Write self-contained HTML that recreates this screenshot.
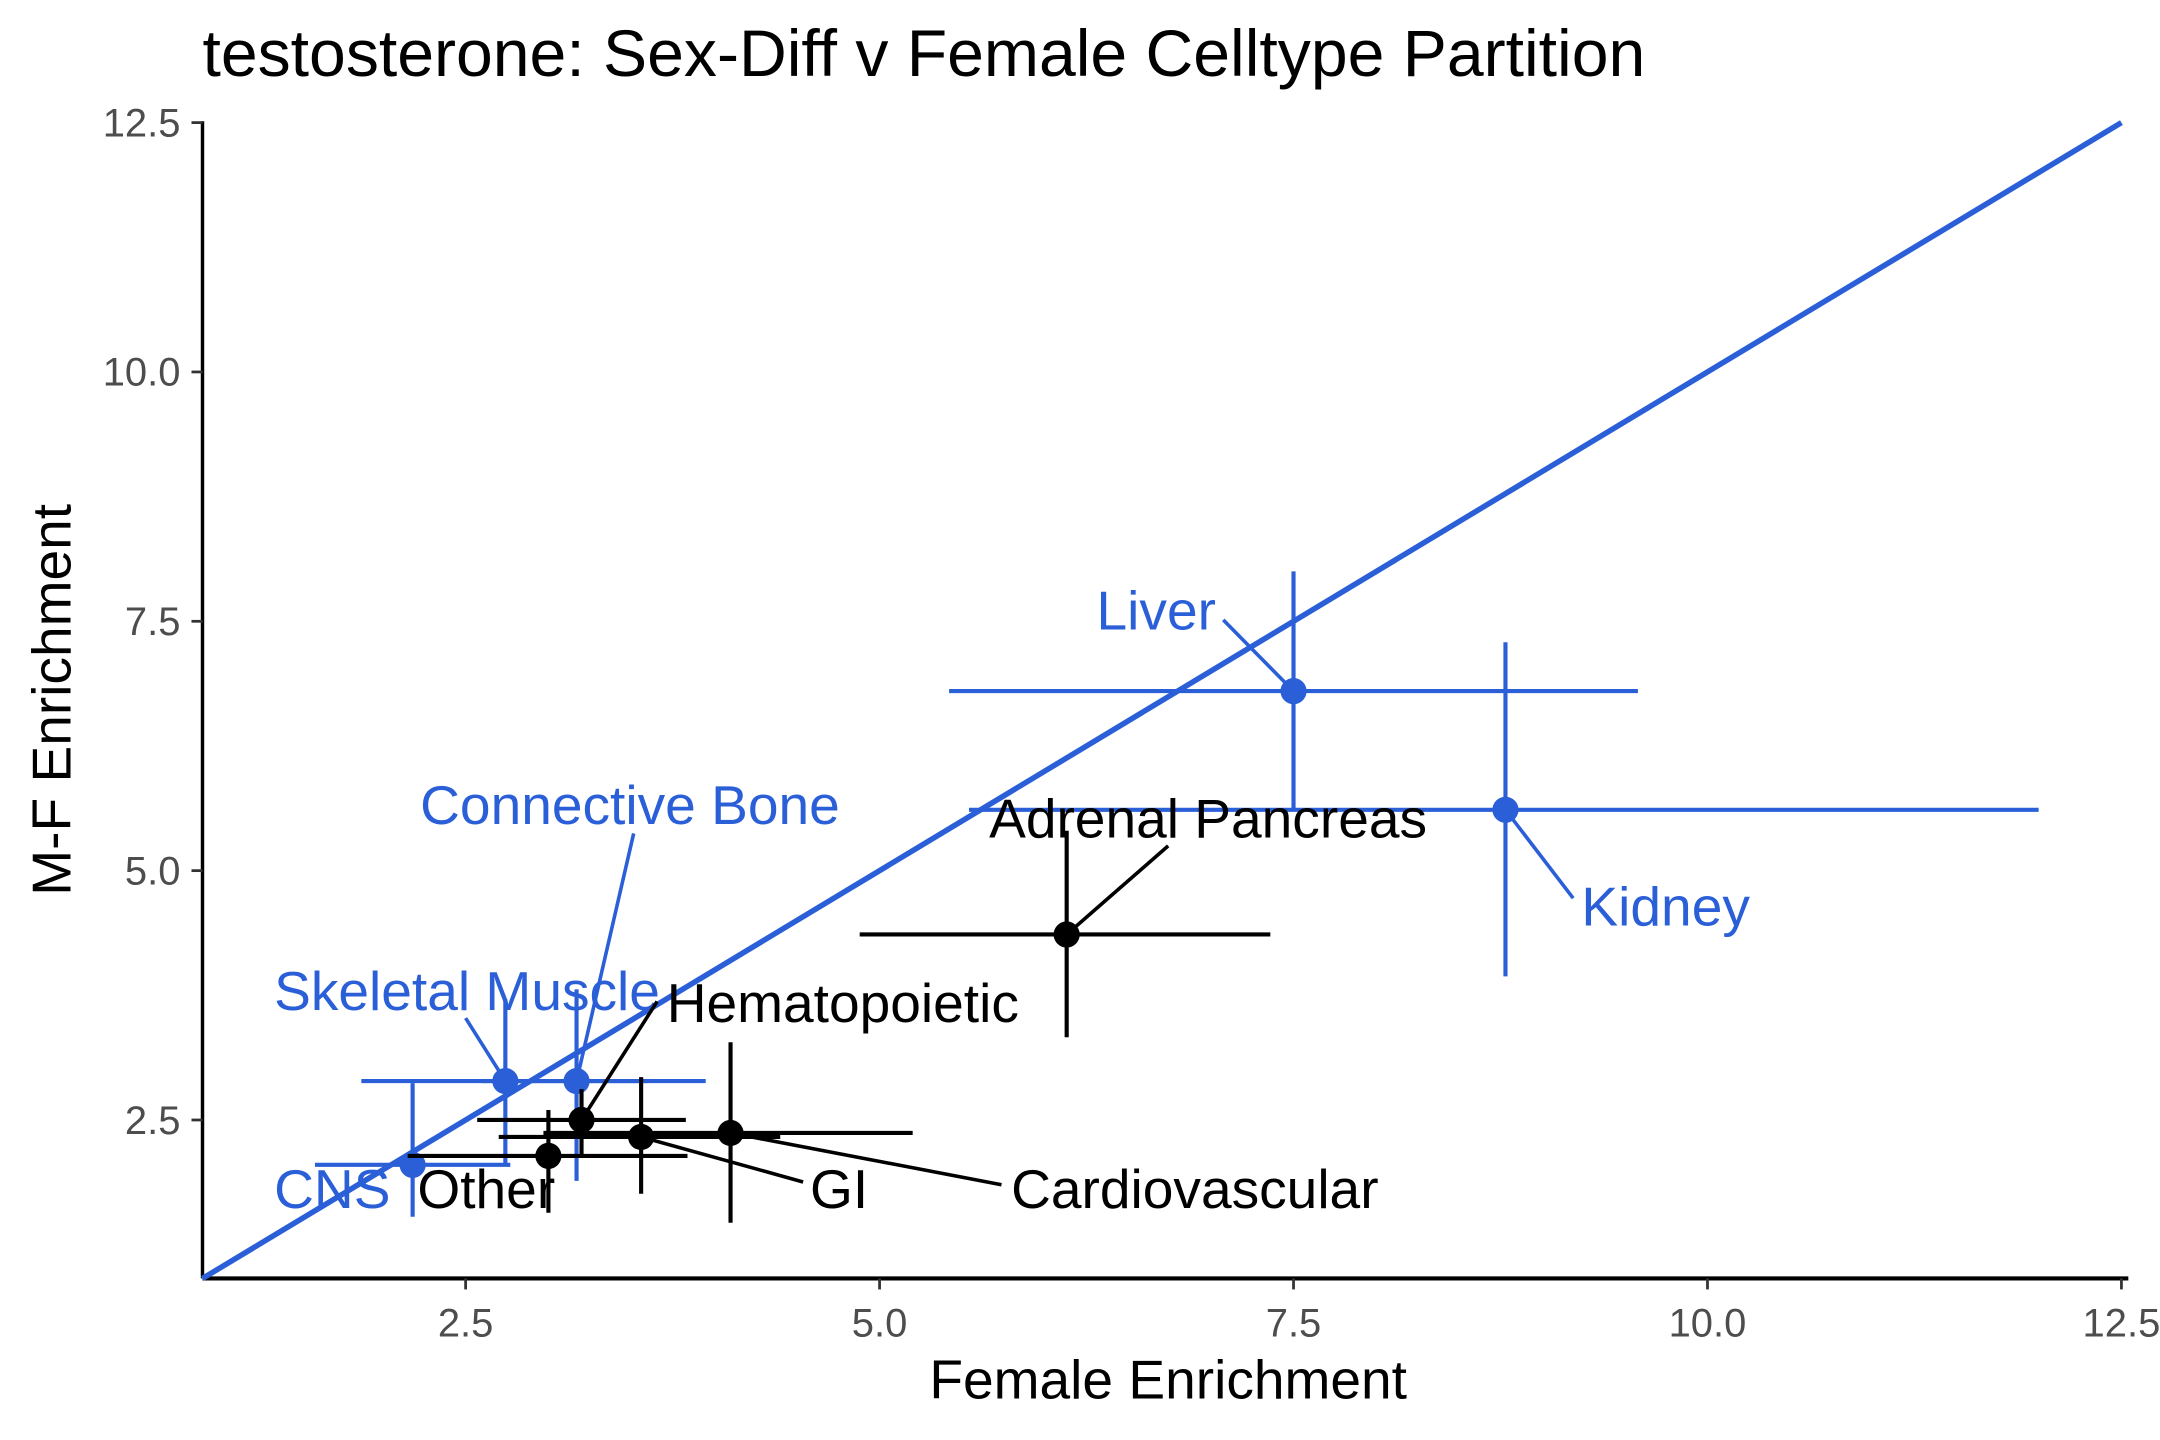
<!DOCTYPE html>
<html><head><meta charset="utf-8"><style>
html,body{margin:0;padding:0;background:#fff;}
svg{display:block;font-family:"Liberation Sans",Arial,sans-serif;}
</style></head><body>
<svg id="chart" width="2160" height="1440" viewBox="0 0 1568 1045.3" preserveAspectRatio="none" xmlns="http://www.w3.org/2000/svg">
<text x="147" y="55" font-size="48" fill="#000">testosterone: Sex-Diff v Female Celltype Partition</text>
<g id="plot"></g>
<text x="848" y="1015" font-size="40" text-anchor="middle" fill="#000">Female Enrichment</text>
<text transform="translate(51,508) rotate(-90)" font-size="40" text-anchor="middle" fill="#000">M-F Enrichment</text>
</svg>
<script>
const names = ["Liver","Kidney","Adrenal Pancreas","Connective Bone","Skeletal Muscle","CNS","Other","Hematopoietic","GI","Cardiovascular"];
const groups = ["blue","blue","black","blue","blue","blue","black","black","black","black"];
const xVals = [7.5,8.78,6.13,3.17,2.74,2.18,3.0,3.2,3.56,4.1];
const yVals = [6.8,5.61,4.36,2.89,2.89,2.05,2.14,2.5,2.33,2.37];
const xLo = [5.42,5.54,4.88,2.6,1.87,1.59,2.15,2.57,2.7,2.97];
const xHi = [9.58,12.0,7.36,3.95,3.6,2.77,3.84,3.83,4.4,5.2];
const yLo = [5.61,3.94,3.33,1.89,2.04,1.53,1.57,2.13,1.76,1.47];
const yHi = [8.0,7.29,5.4,3.81,3.71,2.87,2.6,2.81,2.93,3.28];
const xTicks = [2.5,5.0,7.5,10.0,12.5];
const yTicks = [2.5,5.0,7.5,10.0,12.5];
const tickLabels = ["2.5","5.0","7.5","10.0","12.5"];
// label placement (annotation layout, display coords): text x, baseline y, leader start
const labelPos = [[796,457,888,450],[1148,672,1142,652],[718,608,848,614],[305,598,460,605],[199,733,338,739],[199,877,null,null],[303,877,null,null],[484,742,477,727],[588,877,583,858],[734,877,727,860]];

const X0=147, X1=1545, Y0=928, Y1=89;
const dmin=0.91, dmax=12.5;
const sx = v => 338 + (v-2.5)*120.2;
const sy = v => 813 - (v-2.5)*72.4;
const BLUE="#2a5fd8";
const NS="http://www.w3.org/2000/svg";
const g=document.getElementById('plot');
function mk(tag,attrs,parent){const e=document.createElementNS(NS,tag);for(const k in attrs)e.setAttribute(k,attrs[k]);(parent||g).appendChild(e);return e;}

let ax=mk('line',{x1:X0,y1:Y0,x2:X1,y2:Y0,stroke:'#000','stroke-width':3});


let ay=mk('line',{x1:X0,y1:Y0,x2:X0,y2:Y1-1,stroke:'#000','stroke-width':2.5});


xTicks.forEach((t,i)=>{
  const tk=mk('line',{x1:sx(t),y1:Y0,x2:sx(t),y2:Y0+8,stroke:'#333','stroke-width':2});
  
  
  const tl=mk('text',{x:sx(t),y:Y0+42,'font-size':29,'text-anchor':'middle',fill:'#4d4d4d'});
  tl.textContent=tickLabels[i];
  
  
});
yTicks.forEach((t,i)=>{
  const tk=mk('line',{x1:X0-8,y1:sy(t),x2:X0,y2:sy(t),stroke:'#333','stroke-width':2});
  
  
  const tl=mk('text',{x:X0-16,y:sy(t)+10,'font-size':29,'text-anchor':'end',fill:'#4d4d4d'});
  tl.textContent=tickLabels[i];
  
  
});
let dl=mk('line',{x1:sx(dmin),y1:sy(dmin),x2:sx(dmax),y2:sy(dmax),stroke:BLUE,'stroke-width':4});



names.forEach((n,i)=>{
  const c = groups[i]==='blue'?BLUE:'#000';
  const slug=n.toLowerCase().replace(/ /g,'-');
  const h=mk('line',{x1:sx(xLo[i]),y1:sy(yVals[i]),x2:sx(xHi[i]),y2:sy(yVals[i]),stroke:c,'stroke-width':3});
  
  
  const v=mk('line',{x1:sx(xVals[i]),y1:sy(yLo[i]),x2:sx(xVals[i]),y2:sy(yHi[i]),stroke:c,'stroke-width':3});
  
  
  const p=mk('circle',{cx:sx(xVals[i]),cy:sy(yVals[i]),r:9.5,fill:c});
  
  
  const lp=labelPos[i];
  if(lp[2]!==null){
    const s=mk('line',{x1:lp[2],y1:lp[3],x2:sx(xVals[i]),y2:sy(yVals[i]),stroke:c,'stroke-width':2.6});
    
    
  }
  const t=mk('text',{x:lp[0],y:lp[1],'font-size':40,fill:c});
  t.textContent=n;
  
  
});
</script>
</body></html>
